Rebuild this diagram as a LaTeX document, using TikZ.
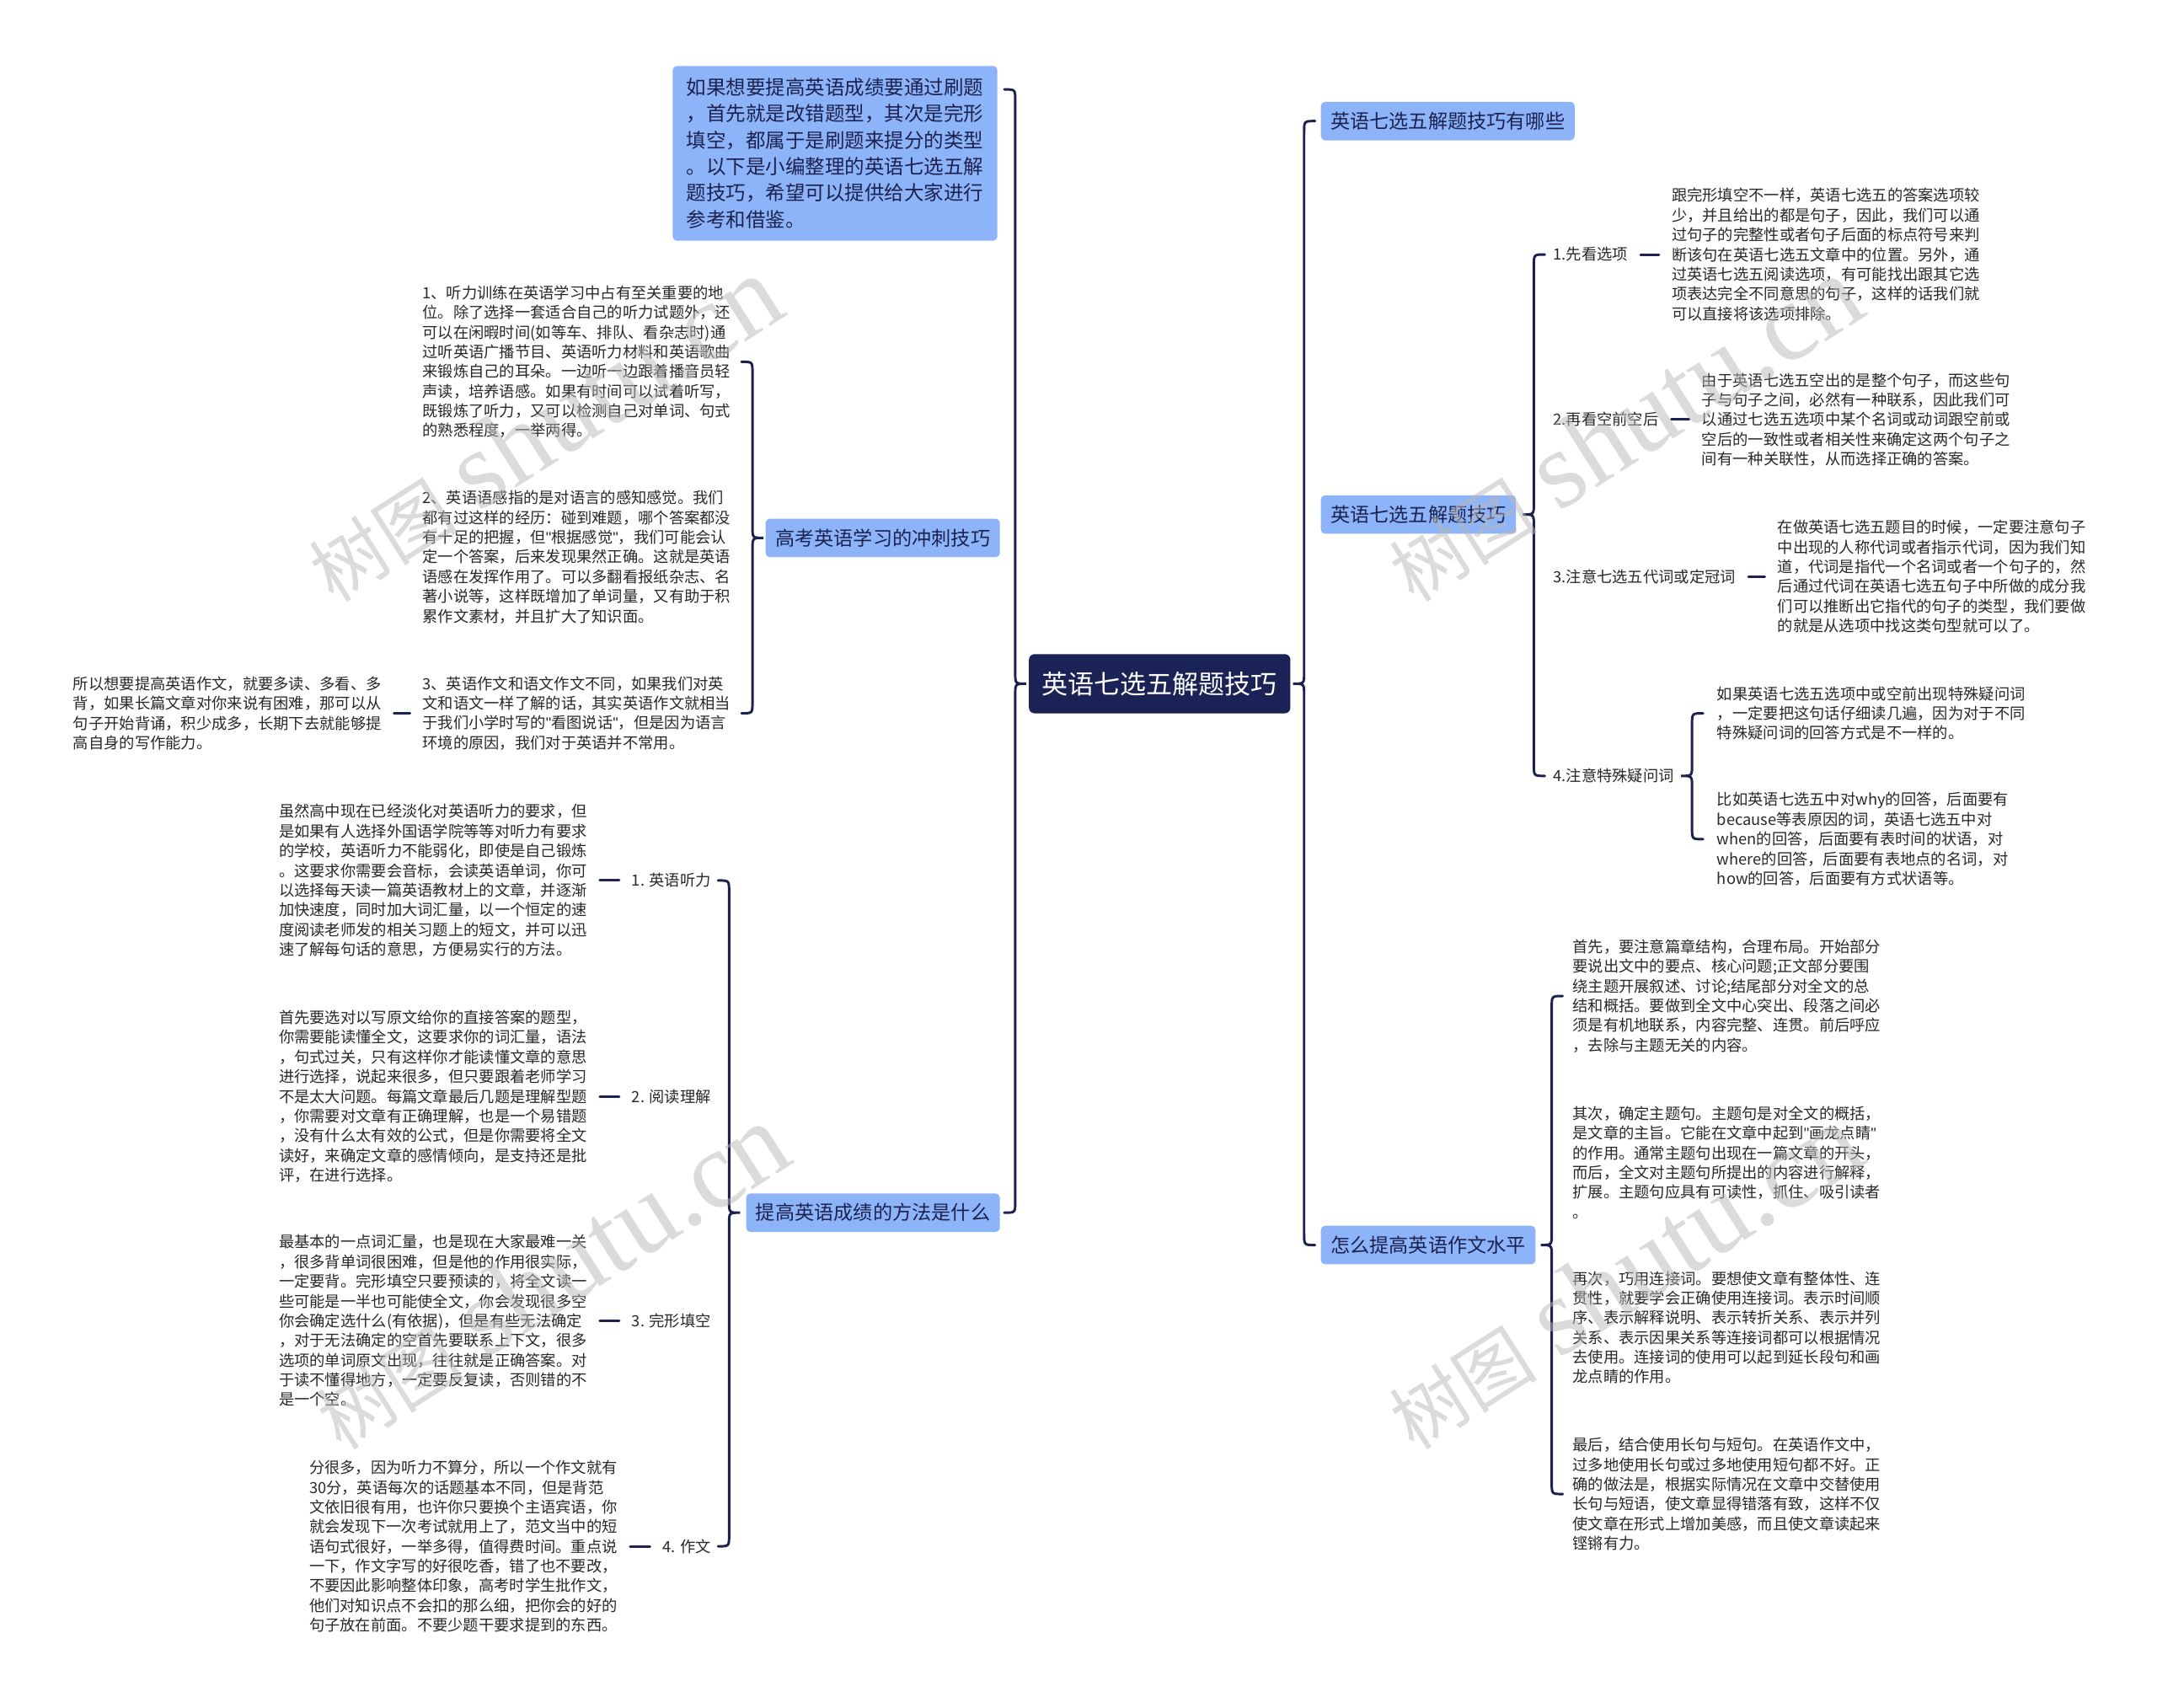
\documentclass[tikz,border=0pt]{standalone}
\usepackage{fontspec}
\setmainfont{Noto Sans CJK SC}
\newfontfamily\wmserif{Liberation Serif}
\newfontfamily\quotefont{Liberation Sans}
\newcommand\dq{{\quotefont"}}
\usepackage{tikz}
\usetikzlibrary{calc}

\definecolor{linknavy}{RGB}{28,33,80}
\definecolor{rootnavy}{RGB}{27,35,86}
\definecolor{topicblue}{RGB}{141,180,248}
\definecolor{notegray}{RGB}{40,40,40}
\definecolor{wmgray}{RGB}{185,185,185}

% brace: #1 x, #2 side (1 = ends to the right), #3 top node, #4 parent, #5 bottom node
\newcommand\mmbrace[5]{%
  \draw[link] let \p1=(#3), \p2=(#4), \p3=(#5) in
    ({#1pt+(#2)*8pt},\y1) .. controls (#1pt,\y1) .. (#1pt,\y1-8pt)
    -- (#1pt,\y2+8pt) .. controls (#1pt,\y2) .. ({#1pt-(#2)*8pt},\y2)
    .. controls (#1pt,\y2) .. (#1pt,\y2-8pt)
    -- (#1pt,\y3+8pt) .. controls (#1pt,\y3) .. ({#1pt+(#2)*8pt},\y3);
}
\newcommand\wmtext{{\fontsize{54}{54}\selectfont 树图}\hspace{16pt}{\wmserif\fontsize{80}{80}\selectfont shutu.cn}}

\begin{document}
\begin{tikzpicture}[
    x=1pt,y=-1pt,
    link/.style={draw=linknavy,line width=1.8pt,line cap=round},
    tick/.style={link,shorten <=9pt,shorten >=9pt},
    root/.style={fill=rootnavy,text=white,rounded corners=4pt,
      minimum width=190pt,minimum height=43pt,inner sep=0pt,
      font=\fontsize{19}{22}\selectfont},
    topic/.style={fill=topicblue,text=linknavy,rounded corners=3pt,
      minimum height=28pt,inner xsep=7pt,inner ysep=0pt,
      font=\fontsize{14.2}{18}\selectfont},
    intro/.style={topic,align=left,minimum width=236pt,minimum height=127pt,
      font=\fontsize{14.4}{19.2}\selectfont},
    leaf/.style={inner sep=0pt,text=notegray,font=\fontsize{11.2}{14.3}\selectfont},
    note/.style={leaf,align=left},
    wmark/.style={text=wmgray,opacity=0.5,rotate=32.5,inner sep=0pt}
  ]
  \fill[white] (0,0) rectangle (1568,1241);
  \useasboundingbox (0,0) rectangle (1568,1241);

  \node[root] (root) at (843,497) {英语七选五解题技巧};

  % left side
  \node[intro] (intro) at (607,111.5) {如果想要提高英语成绩要通过刷题\\，首先就是改错题型，其次是完形\\填空，都属于是刷题来提分的类型\\。以下是小编整理的英语七选五解\\题技巧，希望可以提供给大家进行\\参考和借鉴。};
  \node[topic,anchor=east] (sprint) at (727,391) {高考英语学习的冲刺技巧};
  \node[topic,anchor=east] (method) at (727,881.5) {提高英语成绩的方法是什么};
  \coordinate (introend) at (738,65);

  \node[note,anchor=west] (a1) at (307,263) {1、听力训练在英语学习中占有至关重要的地\\位。除了选择一套适合自己的听力试题外，还\\可以在闲暇时间(如等车、排队、看杂志时)通\\过听英语广播节目、英语听力材料和英语歌曲\\来锻炼自己的耳朵。一边听一边跟着播音员轻\\声读，培养语感。如果有时间可以试着听写，\\既锻炼了听力，又可以检测自己对单词、句式\\的熟悉程度，一举两得。};
  \node[note,anchor=west] (a2) at (307,405) {2、英语语感指的是对语言的感知感觉。我们\\都有过这样的经历：碰到难题，哪个答案都没\\有十足的把握，但\dq 根据感觉\dq ，我们可能会认\\定一个答案，后来发现果然正确。这就是英语\\语感在发挥作用了。可以多翻看报纸杂志、名\\著小说等，这样既增加了单词量，又有助于积\\累作文素材，并且扩大了知识面。};
  \node[note,anchor=west] (a3) at (307,518.5) {3、英语作文和语文作文不同，如果我们对英\\文和语文一样了解的话，其实英语作文就相当\\于我们小学时写的\dq 看图说话\dq ，但是因为语言\\环境的原因，我们对于英语并不常用。};
  \node[note,anchor=west] (a3x) at (53,518.5) {所以想要提高英语作文，就要多读、多看、多\\背，如果长篇文章对你来说有困难，那可以从\\句子开始背诵，积少成多，长期下去就能够提\\高自身的写作能力。};

  \node[leaf,anchor=east] (b1) at (517,640) {1. 英语听力};
  \node[leaf,anchor=east] (b2) at (517,797) {2. 阅读理解};
  \node[leaf,anchor=east] (b3) at (517,960) {3. 完形填空};
  \node[leaf,anchor=east] (b4) at (517,1124) {4. 作文};
  \node[note,anchor=east] (b1n) at (427,640) {虽然高中现在已经淡化对英语听力的要求，但\\是如果有人选择外国语学院等等对听力有要求\\的学校，英语听力不能弱化，即使是自己锻炼\\。这要求你需要会音标，会读英语单词，你可\\以选择每天读一篇英语教材上的文章，并逐渐\\加快速度，同时加大词汇量，以一个恒定的速\\度阅读老师发的相关习题上的短文，并可以迅\\速了解每句话的意思，方便易实行的方法。};
  \node[note,anchor=east] (b2n) at (427,797) {首先要选对以写原文给你的直接答案的题型，\\你需要能读懂全文，这要求你的词汇量，语法\\，句式过关，只有这样你才能读懂文章的意思\\进行选择，说起来很多，但只要跟着老师学习\\不是太大问题。每篇文章最后几题是理解型题\\，你需要对文章有正确理解，也是一个易错题\\，没有什么太有效的公式，但是你需要将全文\\读好，来确定文章的感情倾向，是支持还是批\\评，在进行选择。};
  \node[note,anchor=east] (b3n) at (427,960) {最基本的一点词汇量，也是现在大家最难一关\\，很多背单词很困难，但是他的作用很实际，\\一定要背。完形填空只要预读的，将全文读一\\些可能是一半也可能使全文，你会发现很多空\\你会确定选什么(有依据)，但是有些无法确定\\，对于无法确定的空首先要联系上下文，很多\\选项的单词原文出现，往往就是正确答案。对\\于读不懂得地方，一定要反复读，否则错的不\\是一个空。};
  \node[note,anchor=east] (b4n) at (449,1124) {分很多，因为听力不算分，所以一个作文就有\\30分，英语每次的话题基本不同，但是背范\\文依旧很有用，也许你只要换个主语宾语，你\\就会发现下一次考试就用上了，范文当中的短\\语句式很好，一举多得，值得费时间。重点说\\一下，作文字写的好很吃香，错了也不要改，\\不要因此影响整体印象，高考时学生批作文，\\他们对知识点不会扣的那么细，把你会的好的\\句子放在前面。不要少题干要求提到的东西。};

  % right side
  \node[topic,anchor=west] (which) at (960,88) {英语七选五解题技巧有哪些};
  \node[topic,anchor=west] (skill) at (960,374) {英语七选五解题技巧};
  \node[topic,anchor=west] (essay) at (960,905) {怎么提高英语作文水平};

  \node[leaf,anchor=west] (c1) at (1129,185) {1.先看选项};
  \node[leaf,anchor=west] (c2) at (1129,305) {2.再看空前空后};
  \node[leaf,anchor=west] (c3) at (1129,419) {3.注意七选五代词或定冠词};
  \node[leaf,anchor=west] (c4) at (1129,564) {4.注意特殊疑问词};
  \node[note,anchor=west] (c1n) at (1215,185) {跟完形填空不一样，英语七选五的答案选项较\\少，并且给出的都是句子，因此，我们可以通\\过句子的完整性或者句子后面的标点符号来判\\断该句在英语七选五文章中的位置。另外，通\\过英语七选五阅读选项，有可能找出跟其它选\\项表达完全不同意思的句子，这样的话我们就\\可以直接将该选项排除。};
  \node[note,anchor=west] (c2n) at (1237,305) {由于英语七选五空出的是整个句子，而这些句\\子与句子之间，必然有一种联系，因此我们可\\以通过七选五选项中某个名词或动词跟空前或\\空后的一致性或者相关性来确定这两个句子之\\间有一种关联性，从而选择正确的答案。};
  \node[note,anchor=west] (c3n) at (1292,419) {在做英语七选五题目的时候，一定要注意句子\\中出现的人称代词或者指示代词，因为我们知\\道，代词是指代一个名词或者一个句子的，然\\后通过代词在英语七选五句子中所做的成分我\\们可以推断出它指代的句子的类型，我们要做\\的就是从选项中找这类句型就可以了。};
  \node[note,anchor=west] (c4a) at (1248,518.5) {如果英语七选五选项中或空前出现特殊疑问词\\，一定要把这句话仔细读几遍，因为对于不同\\特殊疑问词的回答方式是不一样的。};
  \node[note,anchor=west] (c4b) at (1248,610) {比如英语七选五中对why的回答，后面要有\\because等表原因的词，英语七选五中对\\when的回答，后面要有表时间的状语，对\\where的回答，后面要有表地点的名词，对\\how的回答，后面要有方式状语等。};

  \node[note,anchor=west] (d1) at (1143,724) {首先，要注意篇章结构，合理布局。开始部分\\要说出文中的要点、核心问题;正文部分要围\\绕主题开展叙述、讨论;结尾部分对全文的总\\结和概括。要做到全文中心突出、段落之间必\\须是有机地联系，内容完整、连贯。前后呼应\\，去除与主题无关的内容。};
  \node[note,anchor=west] (d2) at (1143,845) {其次，确定主题句。主题句是对全文的概括，\\是文章的主旨。它能在文章中起到\dq 画龙点睛\dq \\的作用。通常主题句出现在一篇文章的开头，\\而后，全文对主题句所提出的内容进行解释，\\扩展。主题句应具有可读性，抓住、吸引读者\\。};
  \node[note,anchor=west] (d3) at (1143,965) {再次，巧用连接词。要想使文章有整体性、连\\贯性，就要学会正确使用连接词。表示时间顺\\序、表示解释说明、表示转折关系、表示并列\\关系、表示因果关系等连接词都可以根据情况\\去使用。连接词的使用可以起到延长段句和画\\龙点睛的作用。};
  \node[note,anchor=west] (d4) at (1143,1086) {最后，结合使用长句与短句。在英语作文中，\\过多地使用长句或过多地使用短句都不好。正\\确的做法是，根据实际情况在文章中交替使用\\长句与短语，使文章显得错落有致，这样不仅\\使文章在形式上增加美感，而且使文章读起来\\铿锵有力。};

  % braces
  \mmbrace{738}{-1}{introend}{root}{method}
  \mmbrace{948}{1}{which}{root}{essay}
  \mmbrace{547}{-1}{a1}{sprint}{a3}
  \mmbrace{530}{-1}{b1}{method}{b4}
  \mmbrace{1115}{1}{c1}{skill}{c4}
  \mmbrace{1230}{1}{c4a}{c4}{c4b}
  \mmbrace{1128}{1}{d1}{essay}{d4}

  % short ticks
  \draw[tick] (a3x.east |- a3.west) -- (a3.west);
  \draw[tick] (b1n.east |- b1.west) -- (b1.west);
  \draw[tick] (b2n.east |- b2.west) -- (b2.west);
  \draw[tick] (b3n.east |- b3.west) -- (b3.west);
  \draw[tick] (b4n.east |- b4.west) -- (b4.west);
  \draw[tick] (c1.east) -- (c1.east -| c1n.west);
  \draw[tick] (c2.east) -- (c2.east -| c2n.west);
  \draw[tick] (c3.east) -- (c3.east -| c3n.west);

  % watermarks
  \node[wmark] (wm1) at (395,312) {\wmtext};
  \node[wmark] (wm2) at (400,928) {\wmtext};
  \node[wmark] (wm3) at (1180,312) {\wmtext};
  \node[wmark] (wm4) at (1180,928) {\wmtext};
\end{tikzpicture}
\end{document}
